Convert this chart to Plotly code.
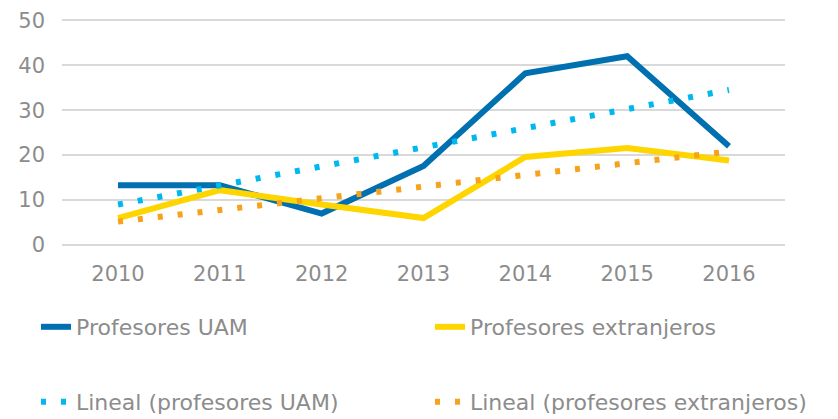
import plotly.graph_objects as go

years = ["2010", "2011", "2012", "2013", "2014", "2015", "2016"]
uam = [13.3, 13.3, 7.0, 17.6, 38.2, 42.0, 22.0]
extranjeros = [6.0, 12.2, 9.0, 6.0, 19.6, 21.6, 18.8]
trend_years = ["2010", "2016"]
trend_uam = [9.0, 34.5]
trend_ext = [5.2, 20.8]

FONT = "DejaVu Sans"
GRAY = "#8c8c8c"
W, H = 830, 411
OFF = 8  # page body offset


def leg(px_left, px_center_y):
    return dict(orientation="h", xref="container", yref="container",
                xanchor="left", yanchor="middle",
                x=(px_left - OFF) / W, y=1 - (px_center_y - OFF) / H,
                font=dict(family=FONT, size=22, color=GRAY),
                bgcolor="rgba(0,0,0,0)", visible=True)


fig = go.Figure()
fig.add_trace(go.Scatter(x=years, y=uam, mode="lines", name="Profesores UAM",
                         line=dict(color="#0070b0", width=6), legend="legend", showlegend=True))
fig.add_trace(go.Scatter(x=years, y=extranjeros, mode="lines", name="Profesores extranjeros",
                         line=dict(color="#ffd500", width=6), legend="legend2", showlegend=True))
fig.add_trace(go.Scatter(x=trend_years, y=trend_uam, mode="lines", name="Lineal (profesores UAM)",
                         line=dict(color="#00b8f0", width=6, dash="5px,15px"), legend="legend3",
                         showlegend=True))
fig.add_trace(go.Scatter(x=trend_years, y=trend_ext, mode="lines", name="Lineal (profesores extranjeros)",
                         line=dict(color="#f7a21b", width=6, dash="5px,15px"), legend="legend4",
                         showlegend=True))

fig.update_layout(
    width=W, height=H,
    showlegend=True,
    margin=dict(l=54, r=53, t=11, b=174),
    paper_bgcolor="white", plot_bgcolor="white",
    font=dict(family=FONT, color=GRAY, size=21),
    xaxis=dict(type="category", categoryorder="array", categoryarray=years,
               range=[-0.55, 6.55], showgrid=False, showline=False, ticks="",
               ticklabelstandoff=14, tickfont=dict(family=FONT, size=21, color=GRAY)),
    yaxis=dict(range=[0, 50.3], tickvals=[0, 10, 20, 30, 40, 50], showgrid=True,
               gridcolor="#d9d9d9", gridwidth=1.5,
               zeroline=True, zerolinecolor="#d9d9d9", zerolinewidth=1.5, showline=False,
               ticks="", ticklabelstandoff=16, automargin=False,
               tickfont=dict(family=FONT, size=21, color=GRAY)),
    legend=leg(36, 327),
    legend2=leg(430, 327),
    legend3=leg(36, 402),
    legend4=leg(430, 402),
)

fig.write_html("out.html")
